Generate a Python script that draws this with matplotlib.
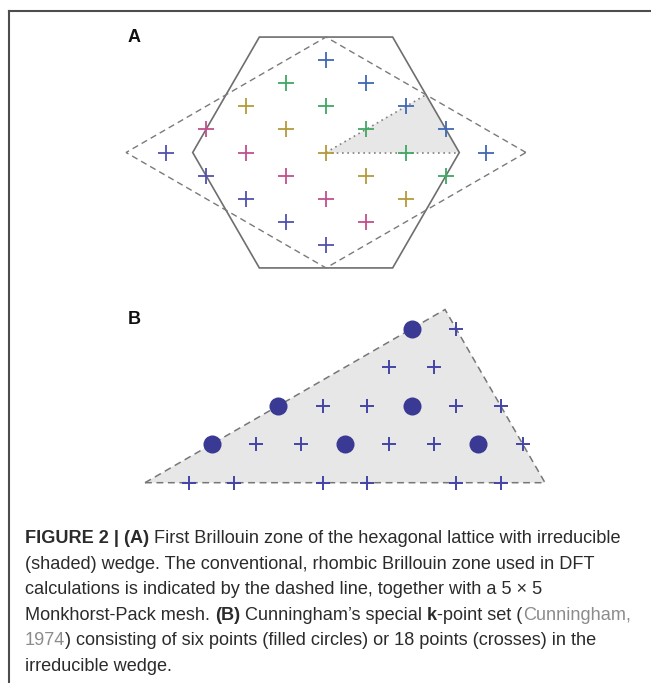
import numpy as np
import matplotlib
matplotlib.use("Agg")
import matplotlib.pyplot as plt
from matplotlib.lines import Line2D
from matplotlib.patches import Polygon

W, H = 651, 683
DPI = 100

# ---- Panel A: 5x5 Monkhorst-Pack mesh in the rhombic zone ----
mp_u = [-0.4, -0.2, 0.0, 0.2, 0.4]          # fractional coordinates along b1 / b2
# colour of each mesh row (indexed by the b1 coordinate)
mp_row_colors = ["#5050b0", "#c24f8c", "#b59a3c", "#3fa862", "#3f68b8"]

# ---- Panel B: Cunningham special k-points in the irreducible wedge ----
circ_x = [0.167, 0.500, 0.833, 0.333, 0.667, 0.667]
circ_y = [0.096, 0.096, 0.096, 0.192, 0.192, 0.385]
cross_x = [0.111, 0.222, 0.444, 0.556, 0.778, 0.889,
           0.278, 0.389, 0.611, 0.722, 0.944,
           0.444, 0.556, 0.778, 0.889,
           0.611, 0.722,
           0.778]
cross_y = [0.0] * 6 + [0.096] * 5 + [0.192] * 4 + [0.289] * 2 + [0.385]

fig = plt.figure(figsize=(W / DPI, H / DPI), dpi=DPI)
fig.patch.set_facecolor("white")


def px_axes(x0, y0, x1, y1):
    """Axes placed by pixel box (top-left origin)."""
    return fig.add_axes([x0 / W, 1 - y1 / H, (x1 - x0) / W, (y1 - y0) / H])


s3 = np.sqrt(3)
G = (0.0, 0.0)
K = (1.0, 0.0)
M = (0.75, s3 / 4)

# ---------------- Panel A ----------------
cx, cy, R = 326.0, 152.5, 133.3
axA = px_axes(100, 20, 560, 285)
axA.set_xlim((100 - cx) / R, (560 - cx) / R)
axA.set_ylim((cy - 285) / R, (cy - 20) / R)
axA.set_axis_off()

axA.add_patch(Polygon([G, K, M], closed=True, facecolor="#e7e7e7",
                      edgecolor="none", zorder=1))
ang = np.deg2rad(np.arange(0, 360, 60))
hexagon = np.column_stack([np.cos(ang), np.sin(ang)])
axA.add_patch(Polygon(hexagon, closed=True, fill=False, edgecolor="#6e6e6e",
                      linewidth=1.2, zorder=2))
rhomb = np.array([[1.5, 0], [0, s3 / 2], [-1.5, 0], [0, -s3 / 2]])
axA.add_patch(Polygon(rhomb, closed=True, fill=False, edgecolor="#7a7a7a",
                      linewidth=1.0, linestyle=(0, (4.5, 3)), zorder=2))
axA.plot([G[0], K[0]], [G[1], K[1]], color="#808080", lw=1.2,
         linestyle=(0, (1, 2.2)), zorder=3)
axA.plot([G[0], M[0]], [G[1], M[1]], color="#808080", lw=1.2,
         linestyle=(0, (1, 2.2)), zorder=3)

b1 = np.array([1.5, s3 / 2])
b2 = np.array([1.5, -s3 / 2])
for i, u1 in enumerate(mp_u):
    pts = np.array([u1 * b1 + u2 * b2 for u2 in mp_u])
    axA.plot(pts[:, 0], pts[:, 1], linestyle="none", marker="+",
             markersize=11, markeredgewidth=1.3, color=mp_row_colors[i],
             zorder=4)

fig.text(134 / W, 1 - 37 / H, "A", fontsize=13, fontweight="bold",
         family="Liberation Sans", ha="center", va="center", color="#111111")

# ---------------- Panel B ----------------
gx, gy, U = 145.0, 482.7, 400.0
axB = px_axes(100, 295, 580, 500)
axB.set_xlim((100 - gx) / U, (580 - gx) / U)
axB.set_ylim((gy - 500) / U, (gy - 295) / U)
axB.set_axis_off()

axB.add_patch(Polygon([G, K, M], closed=True, facecolor="#e7e7e7",
                      edgecolor="#777777", linewidth=1.1,
                      linestyle=(0, (4.5, 3)), zorder=1))
axB.plot(cross_x, cross_y, linestyle="none", marker="+", markersize=10.5,
         markeredgewidth=1.4, color="#4444a8", zorder=3)
axB.plot(circ_x, circ_y, linestyle="none", marker="o", markersize=13,
         markeredgewidth=0, color="#3a3a94", zorder=4)

fig.text(134 / W, 1 - 320 / H, "B", fontsize=13, fontweight="bold",
         family="Liberation Sans", ha="center", va="center", color="#111111")

# ---------------- Frame ----------------
fig.add_artist(Line2D([8.5 / W, 1.0], [1 - 10.5 / H, 1 - 10.5 / H],
                      transform=fig.transFigure, color="#4d4d4d", lw=1.5))
fig.add_artist(Line2D([8.5 / W, 8.5 / W], [0.0, 1 - 10.5 / H],
                      transform=fig.transFigure, color="#4d4d4d", lw=1.5))

# ---------------- Caption ----------------
DARK = "#2b2b2b"
GREY = "#8c8c8c"
cap_lines = [
    [("FIGURE 2 | (A)", "bold", DARK),
     (" First Brillouin zone of the hexagonal lattice with irreducible", "normal", DARK)],
    [("(shaded) wedge. The conventional, rhombic Brillouin zone used in DFT", "normal", DARK)],
    [("calculations is indicated by the dashed line, together with a 5 \u00d7 5", "normal", DARK)],
    [("Monkhorst-Pack mesh. ", "normal", DARK), ("(B)", "bold", DARK),
     (" Cunningham\u2019s special ", "normal", DARK), ("k", "bold", DARK),
     ("-point set (", "normal", DARK), ("Cunningham,", "normal", GREY)],
    [("1974", "normal", GREY),
     (") consisting of six points (filled circles) or 18 points (crosses) in the", "normal", DARK)],
    [("irreducible wedge.", "normal", DARK)],
]
cap_x0 = 25.0
cap_base0 = 543.0
cap_step = 25.6
cap_font = "Liberation Sans"

renderer = fig.canvas.get_renderer()


def line_width(segs, size):
    tot = 0.0
    for txt, wt, col in segs:
        t = fig.text(0, 0, txt, fontsize=size, fontweight=wt, family=cap_font)
        tot += t.get_window_extent(renderer).width
        t.remove()
    return tot


# size the caption so the first line spans its measured width
base_size = 13.0
target = 620.0 - cap_x0
size = base_size * target / line_width(cap_lines[0], base_size)

for k, segs in enumerate(cap_lines):
    x = cap_x0
    yb = cap_base0 + k * cap_step
    for txt, wt, col in segs:
        t = fig.text(x / W, 1 - yb / H, txt, fontsize=size, fontweight=wt,
                     family=cap_font, color=col, ha="left", va="baseline")
        x += t.get_window_extent(renderer).width

fig.savefig("out.png", dpi=DPI, facecolor="white")
